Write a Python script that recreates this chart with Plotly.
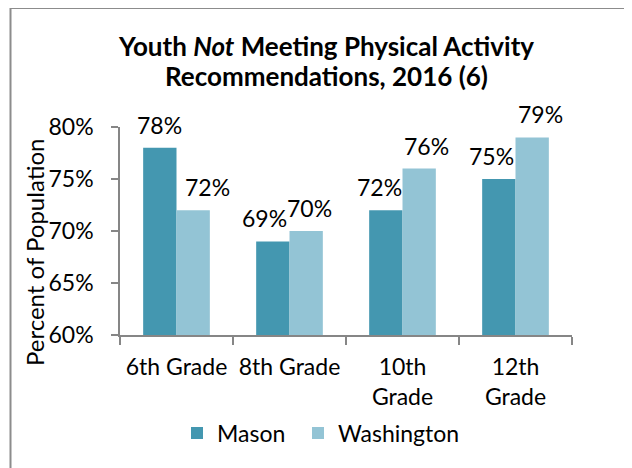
import plotly.graph_objects as go

categories = ["6th Grade", "8th Grade", "10th<br>Grade", "12th<br>Grade"]
mason = [78, 69, 72, 75]
washington = [72, 70, 76, 79]
series_names = ["Mason", "Washington"]
y_ticks = [60, 65, 70, 75, 80]
title_lines = ["<b>Youth <i>Not</i> Meeting Physical Activity</b>", "<b>Recommendations, 2016 (6)</b>"]

# label horizontal nudges (pixels) relative to bar centres, as in the reference
mason_label_dx = [-17, -25, -23, -24]
wash_label_dx = [31, 20, 24, 25]

FONT = "Lato, 'Open Sans', sans-serif"
C_MASON = "#4497B0"
C_WASH = "#93C4D5"
FS = 23

W, H = 632, 468
PAGE_OFF = 8  # default body margin of the html page
PL, PT, PR, PB = 120, 127, 572, 335  # plot area in page pixels
pw, ph = PR - PL, PB - PT
L, T = PL - PAGE_OFF, PT - PAGE_OFF
R, B = W - L - pw, H - T - ph


def px_x(x):
    return (x - PL) / pw


def px_y(y):
    return (PB - y) / ph


fig = go.Figure()
fig.add_trace(go.Bar(x=categories, y=[v - 60 for v in mason], base=60, name=series_names[0],
                     marker=dict(color=C_MASON, line=dict(width=0)), legend="legend"))
fig.add_trace(go.Bar(x=categories, y=[v - 60 for v in washington], base=60, name=series_names[1],
                     marker=dict(color=C_WASH, line=dict(width=0)), legend="legend2"))

annotations = []
for vals, dxs in ((mason, mason_label_dx), (washington, wash_label_dx)):
    for c, v, dx in zip(categories, vals, dxs):
        annotations.append(dict(x=c, y=v, xref="x", yref="y", text=f"{v}%", showarrow=False,
                                xshift=dx, yshift=7, yanchor="bottom",
                                font=dict(family=FONT, size=FS, color="#000000")))

annotations.append(dict(x=px_x(34), y=px_y(253), xref="paper", yref="paper",
                        text="Percent of Population", textangle=-90, showarrow=False,
                        xanchor="center", yanchor="middle",
                        font=dict(family=FONT, size=24, color="#000000")))
for line, yc in zip(title_lines, (46, 76)):
    annotations.append(dict(x=px_x(326), y=px_y(yc), xref="paper", yref="paper",
                            text=line, showarrow=False, xanchor="center", yanchor="middle",
                            font=dict(family=FONT, size=26, color="#000000")))

# Outer chart border (top and left edges visible)
shapes = [
    dict(type="line", xref="paper", yref="paper",
         x0=px_x(10.5), x1=px_x(W + 20), y0=px_y(8), y1=px_y(8),
         line=dict(color="#8C8C8C", width=2)),
    dict(type="line", xref="paper", yref="paper",
         x0=px_x(10.5), x1=px_x(10.5), y0=px_y(8), y1=px_y(H + 20),
         line=dict(color="#8C8C8C", width=2)),
]

legend_common = dict(orientation="h", yanchor="middle", xanchor="left",
                     font=dict(family=FONT, size=FS, color="#000000"), itemwidth=30,
                     bgcolor="rgba(0,0,0,0)")

fig.update_layout(
    width=W, height=H,
    margin=dict(l=L, r=R, t=T, b=B),
    paper_bgcolor="white", plot_bgcolor="white",
    barmode="group", bargap=0.41, bargroupgap=0,
    font=dict(family=FONT, size=FS, color="#000000"),
    showlegend=True,
    legend=dict(x=px_x(177), y=px_y(433), **legend_common),
    legend2=dict(x=px_x(298), y=px_y(433), **legend_common),
    annotations=annotations,
    shapes=shapes,
    xaxis=dict(showline=True, linecolor="#868686", linewidth=1.5, ticks="outside", tickson="boundaries",
               ticklen=8, tickcolor="#868686", tickwidth=1.5, showgrid=False, tickangle=0,
               automargin=False, ticklabelstandoff=11,
               tickfont=dict(family=FONT, size=FS, color="#000000")),
    yaxis=dict(range=[60, 80], tickvals=y_ticks, ticktext=[f"{t}%" for t in y_ticks],
               showline=True, linecolor="#868686", linewidth=1.5, ticks="outside", ticklen=7,
               tickcolor="#868686", tickwidth=1.5, showgrid=False, zeroline=False,
               ticklabelstandoff=13, automargin=False,
               tickfont=dict(family=FONT, size=FS, color="#000000")),
)

fig.write_html("out.html")
